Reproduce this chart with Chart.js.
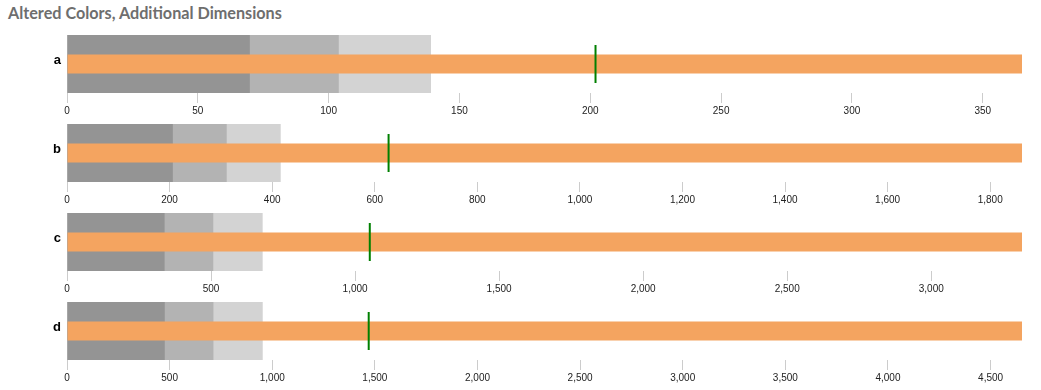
<!DOCTYPE html>
<html>
<head>
<meta charset="utf-8">
<script src="https://cdn.jsdelivr.net/npm/chart.js@4"></script>
<style>
  body { margin: 0; background: #fff; width: 1041px; height: 390px; overflow: hidden; position: relative; }
  #title { position: absolute; left: 8px; top: 3px; font-family: Lato, sans-serif; font-weight: bold; font-size: 16.2px; color: #6e6e6e; }
  .row { position: absolute; left: 0; width: 1041px; height: 89px; }
</style>
</head>
<body>
<div id="title">Altered Colors, Additional Dimensions</div>
<div class="row" style="top:27px"><canvas id="c0" width="1041" height="89"></canvas></div>
<div class="row" style="top:116px"><canvas id="c1" width="1041" height="89"></canvas></div>
<div class="row" style="top:205px"><canvas id="c2" width="1041" height="89"></canvas></div>
<div class="row" style="top:294px"><canvas id="c3" width="1041" height="89"></canvas></div>
<script>
// data
var categories = ['a', 'b', 'c', 'd'];
var actualValues = [365, 1862, 3315, 4653];
var targetValues = [202, 627, 1051, 1470];
var rangeLow = [70, 207, 340, 478];
var rangeMid = [104, 312, 509, 715];
var rangeHigh = [139, 416, 678, 952];
var tickSteps = [50, 200, 500, 500];

var bandColors = ['#949494', '#b3b3b3', '#d3d3d3'];

function drawRow(i) {
    var cat = categories[i];
    new Chart(document.getElementById('c' + i), {
        type: 'bar',
        data: {
            labels: [cat],
            datasets: [
                { type: 'line', data: [{ x: targetValues[i], y: cat }], showLine: false,
                  pointStyle: 'line', rotation: 90, pointRadius: 19, pointBorderWidth: 2,
                  borderColor: '#008000', backgroundColor: '#008000', order: 0 },
                { data: [actualValues[i]], backgroundColor: '#f4a460', barPercentage: 0.33,
                  categoryPercentage: 1, order: 1 },
                { data: [[rangeMid[i], rangeHigh[i]]], backgroundColor: bandColors[2],
                  barPercentage: 1, categoryPercentage: 1, order: 2 },
                { data: [[rangeLow[i], rangeMid[i]]], backgroundColor: bandColors[1],
                  barPercentage: 1, categoryPercentage: 1, order: 3 },
                { data: [[0, rangeLow[i]]], backgroundColor: bandColors[0],
                  barPercentage: 1, categoryPercentage: 1, order: 4 }
            ]
        },
        options: {
            indexAxis: 'y',
            responsive: false,
            animation: false,
            events: [],
            layout: { autoPadding: false, padding: { top: 8, right: 19, left: 0, bottom: 0 } },
            plugins: { legend: { display: false }, tooltip: { enabled: false } },
            datasets: { bar: { grouped: false } },
            scales: {
                x: {
                    min: 0,
                    max: actualValues[i],
                    border: { display: false },
                    grid: { drawOnChartArea: false, tickLength: 10, color: '#cccccc' },
                    ticks: {
                        maxRotation: 0,
                        autoSkip: false,
                        padding: 2,
                        color: '#222',
                        font: { family: 'Liberation Sans, Arial, sans-serif', size: 10 },
                        callback: function (v) { return Number(v).toLocaleString('en-US'); }
                    },
                    afterBuildTicks: function (scale) {
                        var t = [];
                        for (var v = 0; v <= actualValues[i]; v += tickSteps[i]) {
                            t.push({ value: v });
                        }
                        scale.ticks = t;
                    },
                    afterFit: function (scale) { scale.height = 23; }
                },
                y: {
                    border: { display: false },
                    grid: { display: false, drawTicks: false },
                    ticks: {
                        padding: 6,
                        labelOffset: -4,
                        color: '#000',
                        font: { family: 'Liberation Sans, Arial, sans-serif', size: 13, weight: 'bold' }
                    },
                    afterFit: function (scale) {
                        scale.width = 67;
                        scale.paddingTop = 0;
                        scale.paddingBottom = 0;
                    }
                }
            }
        }
    });
}

for (var k = 0; k < categories.length; k++) {
    drawRow(k);
}
</script>
</body>
</html>
